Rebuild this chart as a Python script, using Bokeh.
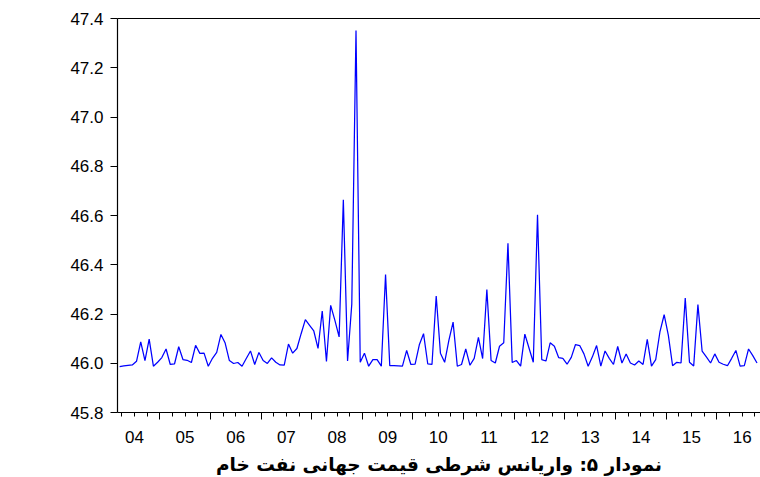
from bokeh.plotting import figure
from bokeh.models import (Range1d, FixedTicker, LinearAxis, PrintfTickFormatter,
                          ColumnDataSource, CustomLabelingPolicy)
from bokeh.embed import file_html
from bokeh.resources import INLINE

# ---------------- data ----------------
start_year = 2004
start_month = 3  # first monthly observation: 2004M03

variance = [
    45.986, 45.989, 45.991, 45.993, 46.008, 46.087, 46.011, 46.098, 45.988, 46.004,
    46.023, 46.058, 45.995, 45.997, 46.067, 46.015, 46.012, 46.003, 46.073, 46.040,
    46.041, 45.988, 46.020, 46.044, 46.117, 46.082, 46.011, 45.999, 46.003, 45.988,
    46.019, 46.050, 45.995, 46.044, 46.011, 45.999, 46.022, 46.004, 45.993, 45.992,
    46.078, 46.041, 46.060, 46.120, 46.177, 46.154, 46.131, 46.060, 46.212, 46.007,
    46.235, 46.174, 46.107, 46.664, 46.009, 46.240, 47.351, 46.004, 46.041, 45.988,
    46.015, 46.015, 45.988, 46.360, 45.990, 45.990, 45.989, 45.988, 46.052, 45.995,
    45.996, 46.075, 46.120, 45.997, 45.995, 46.273, 46.041, 46.004, 46.093, 46.167,
    45.988, 45.995, 46.058, 45.992, 46.020, 46.105, 46.019, 46.299, 46.011, 46.001,
    46.069, 46.083, 46.487, 46.003, 46.011, 45.988, 46.118, 46.061, 46.004, 46.603,
    46.015, 46.009, 46.083, 46.069, 46.023, 46.020, 45.996, 46.024, 46.076, 46.072,
    46.038, 45.988, 46.026, 46.072, 45.988, 46.050, 46.020, 45.995, 46.068, 46.001,
    46.038, 46.001, 45.993, 46.009, 45.995, 46.097, 45.988, 46.015, 46.127, 46.197,
    46.113, 45.990, 46.004, 46.001, 46.265, 46.004, 45.989, 46.238, 46.049, 46.026,
    46.001, 46.038, 46.004, 45.996, 45.990, 46.020, 46.052, 45.988, 45.990, 46.058,
    46.031, 46.001,
]

year_labels = ["04", "05", "06", "07", "08", "09", "10", "11", "12", "13", "14", "15", "16"]
years = [2004 + i for i in range(len(year_labels))]
y_ticks = [45.8, 46.0, 46.2, 46.4, 46.6, 46.8, 47.0, 47.2, 47.4]
title_text = "نمودار ۵: واریانس شرطی قیمت جهانی نفت خام"

# monthly observations plotted at mid-month (decimal years)
x_vals = [start_year + (start_month - 1 + i + 0.5) / 12.0 for i in range(len(variance))]
src = ColumnDataSource(data=dict(x=x_vals, y=variance))

x_start = x_vals[0] - 0.042
x_end = x_vals[-1] + 0.069

p = figure(width=760, height=477, output_backend="svg", toolbar_location=None,
           x_range=Range1d(x_start, x_end), y_range=Range1d(y_ticks[0], y_ticks[-1]),
           min_border_left=117, min_border_right=0, min_border_top=18,
           min_border_bottom=0)
p.grid.visible = False
p.outline_line_color = None
p.background_fill_color = "white"
p.border_fill_color = "white"

p.line("x", "y", source=src, line_color="#0000ff", line_width=1.25)

# y axis
ya = p.yaxis[0]
ya.ticker = FixedTicker(ticks=y_ticks)
ya.formatter = PrintfTickFormatter(format="%.1f")
ya.major_tick_in = 0
ya.major_tick_out = 7
ya.minor_tick_in = 0
ya.minor_tick_out = 0
ya.major_label_standoff = 7
ya.major_label_text_font = "Liberation Sans"
ya.major_label_text_font_size = "17px"
ya.major_label_text_color = "black"
ya.axis_line_color = "black"
ya.axis_line_width = 1.2
ya.major_tick_line_color = "black"

hide_all = CustomLabelingPolicy(code="""
const n = indices.size;
for (let i = 0; i < n; i++) { indices.unset(i); }
return indices;
""")

# x axis 1: tick marks at year starts (major) and quarters (minor), no labels
quarters = [yv + q / 4.0 for yv in years for q in range(4)]
xa = p.xaxis[0]
xa.ticker = FixedTicker(ticks=years, minor_ticks=quarters)
xa.major_tick_in = 0
xa.major_tick_out = 7
xa.minor_tick_in = 0
xa.minor_tick_out = 4
xa.major_label_policy = hide_all
xa.major_label_text_font_size = "1px"
xa.major_label_standoff = 0
xa.axis_line_color = "black"
xa.axis_line_width = 1.2
xa.major_tick_line_color = "black"
xa.minor_tick_line_color = "black"

# x axis 2: year labels centred in each year, plus chart caption
mids = [yv + 0.5 for yv in years]
xa2 = LinearAxis(ticker=FixedTicker(ticks=mids, minor_ticks=[]),
                 major_label_overrides={m: lab for m, lab in zip(mids, year_labels)},
                 axis_line_color=None, major_tick_line_color=None,
                 minor_tick_line_color=None, major_tick_in=0, major_tick_out=0,
                 minor_tick_in=0, minor_tick_out=0, major_label_standoff=7,
                 major_label_text_font="Liberation Sans",
                 major_label_text_font_size="17px",
                 major_label_text_color="black",
                 axis_label=title_text, axis_label_standoff=8,
                 axis_label_text_font="DejaVu Sans",
                 axis_label_text_font_style="bold",
                 axis_label_text_font_size="18.5px",
                 axis_label_text_color="black")
p.add_layout(xa2, "below")

# top border line (no right border, as in the reference)
ta = LinearAxis(ticker=FixedTicker(ticks=[], minor_ticks=[]),
                axis_line_color="black", axis_line_width=1.2,
                major_tick_in=0, major_tick_out=0, minor_tick_in=0, minor_tick_out=0,
                major_label_standoff=0, major_label_policy=hide_all)
p.add_layout(ta, "above")

open("out.html", "w").write(file_html(p, INLINE))
